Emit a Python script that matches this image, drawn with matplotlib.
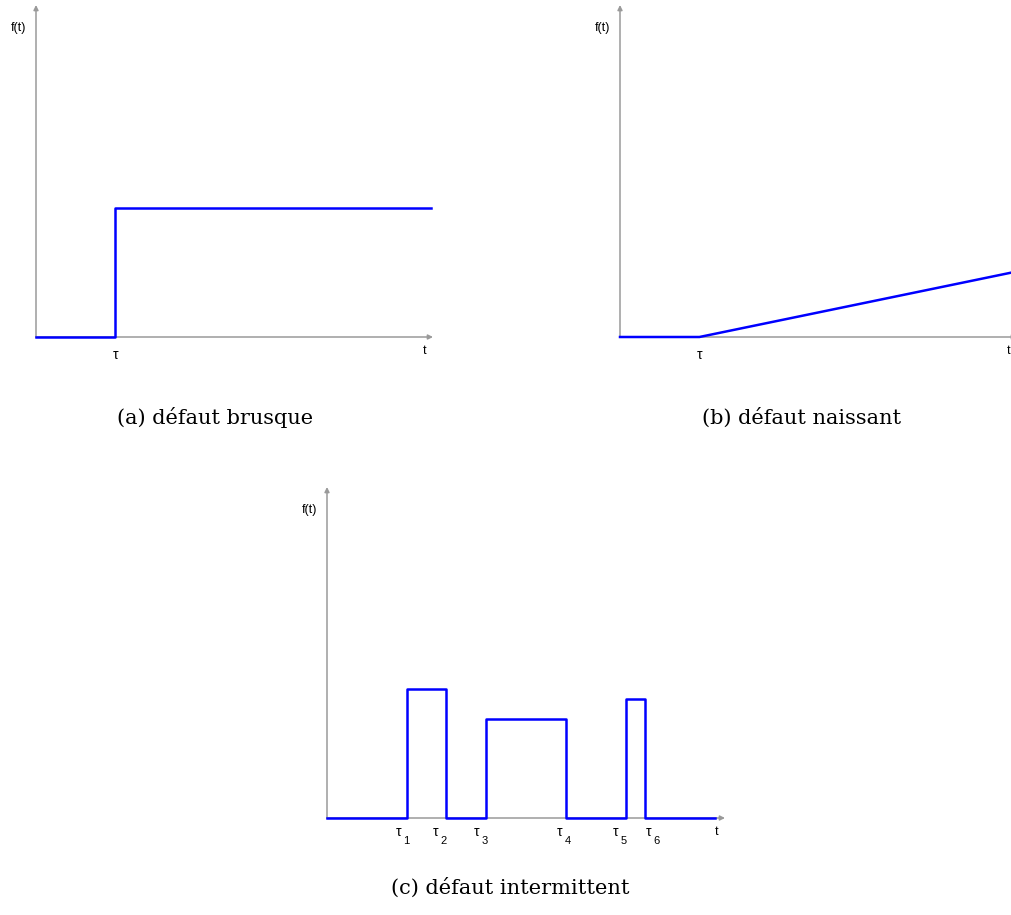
import numpy as np
import matplotlib
matplotlib.use('Agg')
import matplotlib.pyplot as plt

# (a) abrupt fault: step at tau
a_tau = 2.0
a_level = 3.9
a_tend = 9.95

# (b) incipient fault: ramp starting at tau
b_tau = 2.0
b_tend = 9.9
b_fend = 1.95

# (c) intermittent fault: pulses between tau_1..tau_6
c_tau = [2.0, 3.0, 4.0, 6.0, 7.5, 8.0]
c_levels = [3.9, 3.0, 3.6]
c_tend = 9.75
c_label_x = [1.8, 2.74, 3.77, 5.85, 7.26, 8.09]

captions = ['(a) défaut brusque', '(b) défaut naissant', '(c) défaut intermittent']

W, H = 1012, 915
fig = plt.figure(figsize=(W / 100, H / 100), dpi=100)
fig.patch.set_facecolor('white')

axcol = '#9a9a9a'
blue = '#0000ff'
sans = 'Liberation Sans'


def make_axes(x0, x1, y0, y1):
    # x0/x1: pixel columns of t=0 and t=10, y0/y1: pixel rows of f=0 and f=10
    ax = fig.add_axes([x0 / W, 1 - y0 / H, (x1 - x0) / W, (y0 - y1) / H])
    ax.set_xlim(0, 10)
    ax.set_ylim(0, 10)
    ax.axis('off')
    arr = dict(arrowstyle='-|>', color=axcol, lw=1.1, mutation_scale=7, shrinkA=0, shrinkB=0)
    ax.annotate('', xy=(0, 10), xytext=(0, 0), arrowprops=arr, annotation_clip=False, zorder=1)
    ax.annotate('', xy=(10, 0), xytext=(0, 0), arrowprops=arr, annotation_clip=False, zorder=1)
    ax.text(-0.45, 9.3, 'f(t)', fontsize=9, family=sans, ha='center', va='center')
    ax.text(9.8, -0.42, 't', fontsize=9, family=sans, ha='center', va='center')
    return ax


# (a)
ax = make_axes(36, 433, 337, 5)
ax.plot([0, a_tau, a_tau, a_tend], [0, 0, a_level, a_level], color=blue, lw=1.8,
        clip_on=False, zorder=5)
ax.text(a_tau, -0.55, 'τ', fontsize=10, family=sans, ha='center', va='center')
fig.text(215 / W, 1 - 418 / H, captions[0], fontsize=15, family='DejaVu Serif',
         ha='center', va='center')

# (b)
ax = make_axes(620, 1017, 337, 5)
ax.plot([0, b_tau, b_tend], [0, 0, b_fend], color=blue, lw=1.8, clip_on=False, zorder=5)
ax.text(b_tau, -0.55, 'τ', fontsize=10, family=sans, ha='center', va='center')
fig.text(802 / W, 1 - 418 / H, captions[1], fontsize=15, family='DejaVu Serif',
         ha='center', va='center')

# (c)
ax = make_axes(327, 725, 818, 487)
ct = [0.0]
cf = [0.0]
for i, lvl in enumerate(c_levels):
    t_on, t_off = c_tau[2 * i], c_tau[2 * i + 1]
    ct += [t_on, t_on, t_off, t_off]
    cf += [0, lvl, lvl, 0]
ct.append(c_tend)
cf.append(0)
ax.plot(ct, cf, color=blue, lw=1.8, clip_on=False, zorder=5)
for i, xl in enumerate(c_label_x):
    ax.text(xl, -0.42, 'τ', fontsize=10, family=sans, ha='center', va='center')
    ax.text(xl + 0.2, -0.68, str(i + 1), fontsize=8, family=sans, ha='center', va='center')
fig.text(510 / W, 1 - 888 / H, captions[2], fontsize=15, family='DejaVu Serif',
         ha='center', va='center')

fig.savefig('out.png', dpi=100)
